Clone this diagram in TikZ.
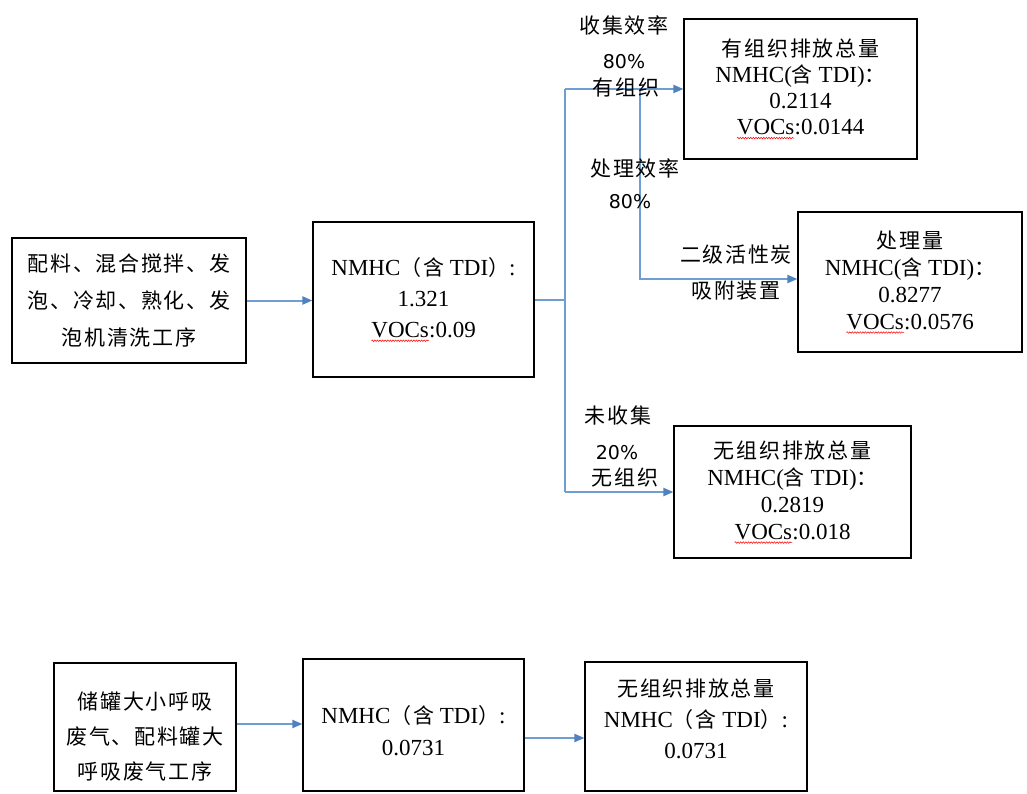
\documentclass[tikz,border=0pt]{standalone}
\usepackage{fontspec}
\setmainfont{Liberation Serif}
\newfontfamily\cjk[LetterSpace=8]{Noto Sans CJK SC}
\newfontfamily\pct{DejaVu Sans}
\usetikzlibrary{arrows.meta,decorations.pathmorphing}
\newcommand\redwave[1]{\tikz[baseline=(w.base),x=1cm,y=1cm]{\node[inner sep=0pt,outer sep=0pt,draw=none,minimum width=0pt,minimum height=0pt,line width=0.4pt] (w) {#1};
  \draw[red,line width=0.5pt,decorate,decoration={snake,amplitude=0.8pt,segment length=2.6pt}] ([yshift=-3.5pt]w.base west) -- ([yshift=-3.5pt]w.base east);}}
\newcommand\zh[1]{{\cjk\fontsize{21}{21}\selectfont #1}}
\definecolor{cblue}{RGB}{110,158,210}
\definecolor{cbluedk}{RGB}{80,130,190}
\begin{document}
\begin{tikzpicture}[x=1pt,y=-1pt,
  box/.style={draw=black, line width=1.2pt, inner sep=0pt, align=center},
  conn/.style={draw=cblue, line width=2pt},
  arr/.style={conn, -{Triangle[length=10pt,width=8pt,color=cbluedk]}},
  lab/.style={font=\cjk\fontsize{21}{26}\selectfont, inner sep=0pt, align=center},
  pcl/.style={font=\pct\fontsize{19}{22}\selectfont, inner sep=0pt}]
\useasboundingbox (0,0) rectangle (1027,794);
\clip (0,0) rectangle (1027,794);
\fill[white] (0,0) rectangle (1027,794);

% top flow
\node[box, minimum width=234pt, minimum height=125pt, font=\cjk\fontsize{21}{37}\selectfont] (b1) at (129,300.5)
  {配料、混合搅拌、发\\泡、冷却、熟化、发\\泡机清洗工序};
\node[box, minimum width=221pt, minimum height=155pt, font=\fontsize{23}{31}\selectfont] (b2) at (423.5,299.5)
  {NMHC\zh{（含} TDI\zh{）}:\\1.321\\\redwave{VOCs}:0.09};
\node[box, minimum width=233pt, minimum height=140pt, font=\fontsize{23}{26}\selectfont] (b3) at (800.5,89)
  {\zh{有组织排放总量}\\NMHC(\zh{含} TDI)\zh{：}\\0.2114\\\redwave{VOCs}:0.0144};
\node[box, minimum width=224pt, minimum height=140pt, font=\fontsize{23}{27}\selectfont] (b4) at (910,282)
  {\zh{处理量}\\NMHC(\zh{含} TDI)\zh{：}\\0.8277\\\redwave{VOCs}:0.0576};
\node[box, minimum width=237pt, minimum height=132pt, font=\fontsize{23}{27}\selectfont] (b5) at (792.5,492)
  {\zh{无组织排放总量}\\NMHC(\zh{含} TDI)\zh{：}\\0.2819\\\redwave{VOCs}:0.018};

% bottom flow
\node[box, minimum width=182pt, minimum height=128pt, font=\cjk\fontsize{21}{35}\selectfont] (bA) at (145,727)
  {\rule{0pt}{36pt}储罐大小呼吸\\废气、配料罐大\\呼吸废气工序};
\node[box, minimum width=221pt, minimum height=132pt, font=\fontsize{23}{32}\selectfont] (bB) at (413.5,725)
  {\rule{0pt}{30pt}NMHC\zh{（含} TDI\zh{）}:\\0.0731};
\node[box, minimum width=222pt, minimum height=129pt, font=\fontsize{23}{31}\selectfont] (bC) at (696,726.5)
  {\zh{无组织排放总量}\\NMHC\zh{（含} TDI\zh{）}:\\0.0731\rule[-16pt]{0pt}{1pt}};

% connectors
\coordinate (jtop) at (565,89);
\coordinate (jbot) at (565,492);
\coordinate (ktop) at (640,89);
\coordinate (kbot) at (640,279);
\draw[arr] (b1.east) -- (b2.west |- b1.east);
\draw[conn] (b2.east) -- (b2.east -| jtop);
\draw[conn] (jtop) -- (jbot);
\draw[arr] (jtop) -- (b3.west |- jtop);
\draw[arr] (jbot) -- (b5.west |- jbot);
\draw[arr] (ktop) -- (kbot) -- (b4.west |- kbot);
\draw[arr] ([yshift=3pt]bA.east) coordinate (ta) -- (ta -| bB.west);
\draw[arr] ([yshift=-13pt]bB.east) coordinate (tb) -- (tb -| bC.west);

% labels
\node[lab] (l1) at (624,25) {收集效率};
\node[pcl] (l2) at (624,62) {80\%};
\node[lab] (l3) at (626,88) {有组织};
\node[lab] (l4) at (635,168) {处理效率};
\node[pcl] (l5) at (630,202) {80\%};
\node[lab] (l6) at (736,255) {二级活性炭};
\node[lab] (l7) at (736,291) {吸附装置};
\node[lab] (l8) at (618,415) {未收集};
\node[pcl] (l9) at (617,453) {20\%};
\node[lab] (l10) at (625,478) {无组织};
\end{tikzpicture}
\end{document}
